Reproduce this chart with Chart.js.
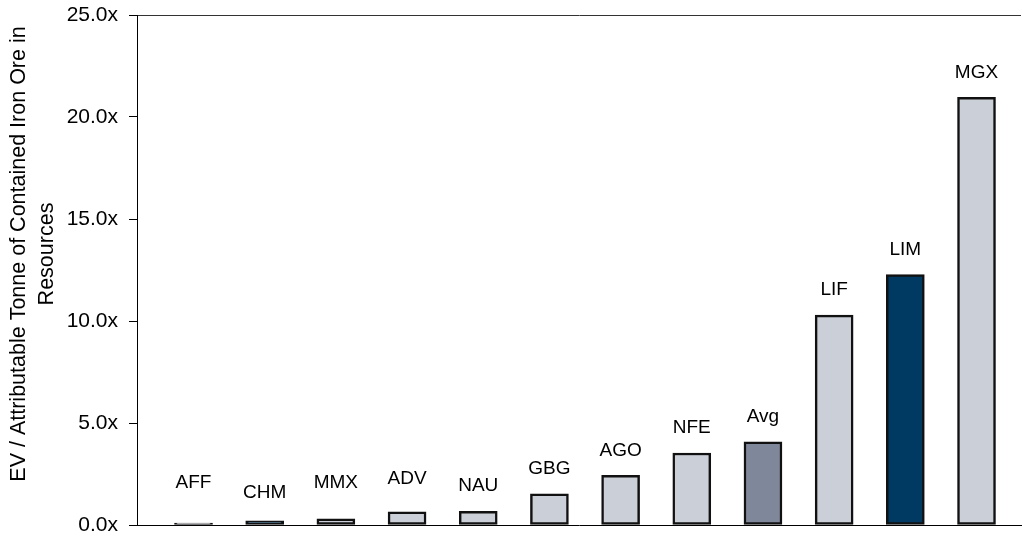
<!DOCTYPE html>
<html>
<head>
<meta charset="utf-8">
<script src="https://cdn.jsdelivr.net/npm/chart.js@4.4.1/dist/chart.umd.min.js"></script>
<style>
  html, body { margin: 0; padding: 0; background: #fff; }
  #wrap { position: relative; width: 1022px; height: 536px; }
</style>
</head>
<body>
<div id="wrap"><canvas id="chart"></canvas></div>
<script>
// EV per attributable tonne of contained iron ore in resources
const companies = ['AFF', 'CHM', 'MMX', 'ADV', 'NAU', 'GBG', 'AGO', 'NFE', 'Avg', 'LIF', 'LIM', 'MGX'];
const evPerTonne = [0.1, 0.2, 0.3, 0.65, 0.67, 1.53, 2.43, 3.53, 4.08, 10.29, 12.28, 20.96];
const yTicks = [0, 5, 10, 15, 20, 25];

const LIGHT = '#cbd0d8';
const AVG = '#7f889a';
const NAVY = '#003a62';
const barColors = companies.map(c => {
  if (c === 'Avg') return AVG;
  if (c === 'LIM' || c === 'CHM') return NAVY;
  return LIGHT;
});

// names above each bar; a few small bars have their label nudged higher
const barNames = {
  id: 'barNames',
  afterDatasetsDraw(chart, args, opts) {
    const ctx = chart.ctx;
    const meta = chart.getDatasetMeta(0);
    ctx.save();
    ctx.font = '19px "Liberation Sans", Arial, sans-serif';
    ctx.fillStyle = '#000';
    ctx.textAlign = 'center';
    ctx.textBaseline = 'middle';
    meta.data.forEach((bar, i) => {
      const lift = opts.lift[i] || opts.gap;
      ctx.fillText(companies[i], bar.x, bar.y - lift);
    });
    ctx.restore();
  }
};

// two-line rotated y axis title
const yTitle = {
  id: 'yTitle',
  afterDraw(chart, args, opts) {
    const ctx = chart.ctx;
    ctx.save();
    ctx.font = '21.5px "Liberation Sans", Arial, sans-serif';
    ctx.fillStyle = '#000';
    ctx.textAlign = 'center';
    ctx.textBaseline = 'alphabetic';
    opts.lines.forEach((line, i) => {
      ctx.save();
      ctx.translate(opts.x[i], opts.cy);
      ctx.rotate(-Math.PI / 2);
      ctx.fillText(line, 0, 0);
      ctx.restore();
    });
    ctx.restore();
  }
};

new Chart(document.getElementById('chart'), {
  type: 'bar',
  data: {
    datasets: [{
      data: evPerTonne.map((v, i) => ({ x: i, y: v })),
      backgroundColor: barColors,
      borderColor: '#111',
      borderWidth: 2.5,
      borderSkipped: false,
      barThickness: 38
    }]
  },
  options: {
    responsive: true,
    maintainAspectRatio: false,
    animation: false,
    layout: { padding: { top: 15, right: 1, bottom: 11, left: 0 } },
    plugins: {
      legend: { display: false },
      tooltip: { enabled: false },
      barNames: { gap: 25, lift: [40, 28, 36, 33, 26] },
      yTitle: {
        lines: ['EV / Attributable Tonne of Contained Iron Ore in', 'Resources'],
        x: [25, 53],
        cy: 254
      }
    },
    scales: {
      x: {
        type: 'linear',
        offset: false,
        min: -0.794,
        max: 11.625,
        ticks: { display: false },
        grid: { display: false },
        border: { display: true, color: '#000', width: 1 },
        afterFit: s => { s.height = 0; s.paddingLeft = 0; s.paddingRight = 0; }
      },
      y: {
        min: 0,
        max: 25,
        afterBuildTicks: s => { s.ticks = yTicks.map(v => ({ value: v })); },
        ticks: {
          padding: 11,
          color: '#000',
          font: { family: '"Liberation Sans", Arial, sans-serif', size: 21 },
          callback: v => v.toFixed(1) + 'x'
        },
        grid: {
          drawTicks: true,
          tickLength: 8,
          tickColor: '#000',
          color: c => (c.tick && c.tick.value === 25 ? '#333' : 'rgba(0,0,0,0)')
        },
        border: { display: true, color: '#000', width: 1 },
        afterFit: s => { s.width = 137; s.paddingTop = 0; s.paddingBottom = 0; }
      }
    }
  },
  plugins: [barNames, yTitle]
});
</script>
</body>
</html>
